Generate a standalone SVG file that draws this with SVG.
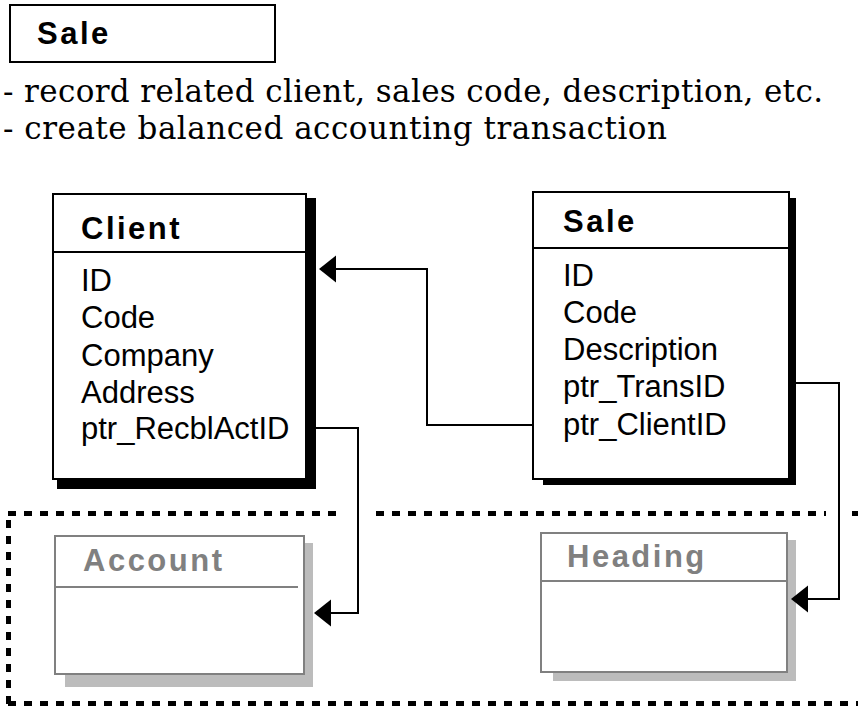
<svg xmlns="http://www.w3.org/2000/svg" width="858" height="706" viewBox="0 0 858 706">
<style>
.title{font-family:"Liberation Sans",Arial,sans-serif;font-weight:bold;font-size:31px;letter-spacing:2.5px;fill:#000}
.gtitle{font-family:"Liberation Sans",Arial,sans-serif;font-weight:bold;font-size:31px;letter-spacing:2.5px;fill:#808080}
.field{font-family:"Liberation Sans",Arial,sans-serif;font-size:31px;fill:#000}
.note{font-family:"DejaVu Serif","Liberation Serif",serif;font-size:31px;fill:#000}
.box{fill:#fff;stroke:#000;stroke-width:2}
.gbox{fill:#fff;stroke:#808080;stroke-width:2}
.shadow{fill:#000}
.gshadow{fill:#bcbcbc}
.conn{fill:none;stroke:#000;stroke-width:2}
.dots{fill:none;stroke:#000;stroke-width:5;stroke-dasharray:8 8}
</style>
<g id="heading-box">
<rect class="box" x="10" y="5" width="265" height="57"/>
<text class="title" x="37" y="44">Sale</text>
</g>
<g id="notes">
<text class="note" x="3" y="102" textLength="820">- record related client, sales code, description, etc.</text>
<text class="note" x="3" y="139" textLength="664">- create balanced accounting transaction</text>
</g>
<g id="boundary">
<path class="dots" d="M8,513.5 H338"/>
<path class="dots" d="M376,513.5 H826"/>
<path class="dots" d="M852,513.5 H858"/>
<path class="dots" d="M8.5,520 V704"/>
<path class="dots" d="M8,703.5 H858"/>
</g>
<g id="client">
<rect class="shadow" x="57" y="198" width="259" height="291"/>
<rect class="box" x="53" y="194" width="253" height="285"/>
<line x1="53" y1="252" x2="306" y2="252" stroke="#000" stroke-width="2"/>
<text class="title" x="81" y="239">Client</text>
<text class="field" x="81" y="291">ID</text>
<text class="field" x="81" y="328">Code</text>
<text class="field" x="81" y="366">Company</text>
<text class="field" x="81" y="403">Address</text>
<text class="field" x="81" y="439">ptr_RecblActID</text>
</g>
<g id="sale">
<rect class="shadow" x="543" y="198" width="253" height="287"/>
<rect class="box" x="533" y="192" width="256" height="287"/>
<line x1="533" y1="248" x2="789" y2="248" stroke="#000" stroke-width="2"/>
<text class="title" x="563" y="232">Sale</text>
<text class="field" x="563" y="286">ID</text>
<text class="field" x="563" y="323">Code</text>
<text class="field" x="563" y="360">Description</text>
<text class="field" x="563" y="397">ptr_TransID</text>
<text class="field" x="563" y="435">ptr_ClientID</text>
</g>
<g id="account">
<rect class="gshadow" x="65" y="543" width="248" height="144"/>
<rect class="gbox" x="55" y="536" width="249" height="138"/>
<line x1="55" y1="587" x2="298" y2="587" stroke="#808080" stroke-width="2"/>
<text class="gtitle" x="83" y="571">Account</text>
</g>
<g id="heading">
<rect class="gshadow" x="553" y="540" width="243" height="141"/>
<rect class="gbox" x="541" y="533" width="246" height="139"/>
<line x1="541" y1="581" x2="787" y2="581" stroke="#808080" stroke-width="2"/>
<text class="gtitle" x="567" y="567">Heading</text>
</g>
<g id="connectors">
<path class="conn" d="M533,425 H427 V269 H330"/>
<polygon points="319,269 336,255.5 336,282.5" fill="#000"/>
<path class="conn" d="M316,428 H358 V613 H325"/>
<polygon points="314,613 331,599.5 331,626.5" fill="#000"/>
<path class="conn" d="M796,383 H839 V599 H802"/>
<polygon points="791,599 808,585.5 808,612.5" fill="#000"/>
</g>
</svg>
